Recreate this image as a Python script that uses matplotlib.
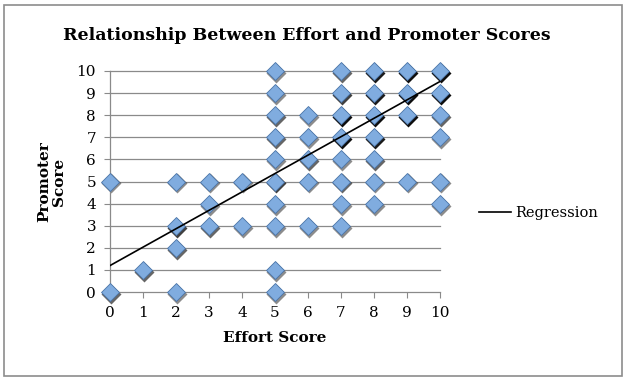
import numpy as np
import matplotlib
matplotlib.use("Agg")
import matplotlib.pyplot as plt
from matplotlib.patches import Rectangle

# effort score, promoter score, number of respondents at that point
effort = [0, 0, 1, 2, 2, 2, 2, 3, 3, 3, 4, 4,
          5, 5, 5, 5, 5, 5, 5, 5, 5, 5,
          6, 6, 6, 6, 6,
          7, 7, 7, 7, 7, 7, 7, 7,
          8, 8, 8, 8, 8, 8, 8,
          9, 9, 9, 9,
          10, 10, 10, 10, 10, 10]
promoter = [5, 0, 1, 5, 3, 2, 0, 5, 4, 3, 5, 3,
            10, 9, 8, 7, 6, 5, 4, 3, 1, 0,
            8, 7, 6, 5, 3,
            10, 9, 8, 7, 6, 5, 4, 3,
            10, 9, 8, 7, 6, 5, 4,
            10, 9, 8, 5,
            10, 9, 8, 7, 5, 4]
counts = [1, 2, 2, 1, 3, 2, 1, 1, 1, 2, 1, 1,
          1, 1, 2, 2, 1, 3, 1, 1, 1, 1,
          1, 1, 2, 1, 1,
          2, 3, 5, 5, 1, 2, 1, 1,
          4, 4, 6, 4, 2, 1, 1,
          8, 8, 5, 1,
          28, 10, 2, 1, 1, 1]

x_ticks = list(range(0, 11))
y_ticks = list(range(0, 11))

xs = np.repeat(effort, counts)
ys = np.repeat(promoter, counts)
slope, intercept = np.polyfit(xs, ys, 1)

plt.rcParams["font.family"] = ["DejaVu Serif"]

fig = plt.figure(figsize=(6.27, 3.81), dpi=100)
fig.patches.append(Rectangle((4 / 627, 5 / 381), 618 / 627, 371 / 381,
                             transform=fig.transFigure, fill=False,
                             edgecolor="#8c8c8c", linewidth=1.2))
ax = fig.add_axes([110 / 627, 1 - 292 / 381, 330 / 627, 221 / 381])
ax.set_xlim(0, 10)
ax.set_ylim(0, 10)

for yv in y_ticks[1:]:
    ax.plot([0, 10], [yv, yv], color="#8a8a8a", lw=0.9, zorder=1, clip_on=False)

# shadows: darker where several respondents share a point
for ex, pr, c in zip(effort, promoter, counts):
    a = min(0.3 + 0.15 * c, 0.95)
    ax.plot(ex + 0.04, pr - 0.09, marker="D", ms=10, color="black",
            alpha=a, mec="none", zorder=2, clip_on=False)
ax.plot(effort, promoter, ls="none", marker="D", ms=9.5, mfc="#80acdf",
        mec="#4a74a8", mew=0.6, zorder=3, clip_on=False)

line_x = np.array([0, 10])
ax.plot(line_x, intercept + slope * line_x, color="black", lw=1.2,
        zorder=4, label="Regression")

for s in ["top", "right"]:
    ax.spines[s].set_visible(False)
for s in ["left", "bottom"]:
    ax.spines[s].set_color("#8a8a8a")
    ax.spines[s].set_linewidth(0.9)
ax.set_xticks(x_ticks)
ax.set_yticks(y_ticks)
ax.tick_params(direction="out", length=4, color="#8a8a8a", labelsize=11,
               pad=6)
ax.set_xlabel("Effort Score", fontsize=11, fontweight="bold", labelpad=8)
ax.set_ylabel("Promoter\nScore", fontsize=11, fontweight="bold", labelpad=8,
              linespacing=1.0)
fig.text(307 / 627, 1 - 35 / 381, "Relationship Between Effort and Promoter Scores",
         ha="center", va="center", fontsize=12.5, fontweight="bold")
fig.legend(loc="center left", bbox_to_anchor=(466 / 627, 1 - 213 / 381),
           frameon=False, fontsize=10.5, handlelength=2.2,
           handletextpad=0.3)

fig.savefig("out.png", dpi=100)
